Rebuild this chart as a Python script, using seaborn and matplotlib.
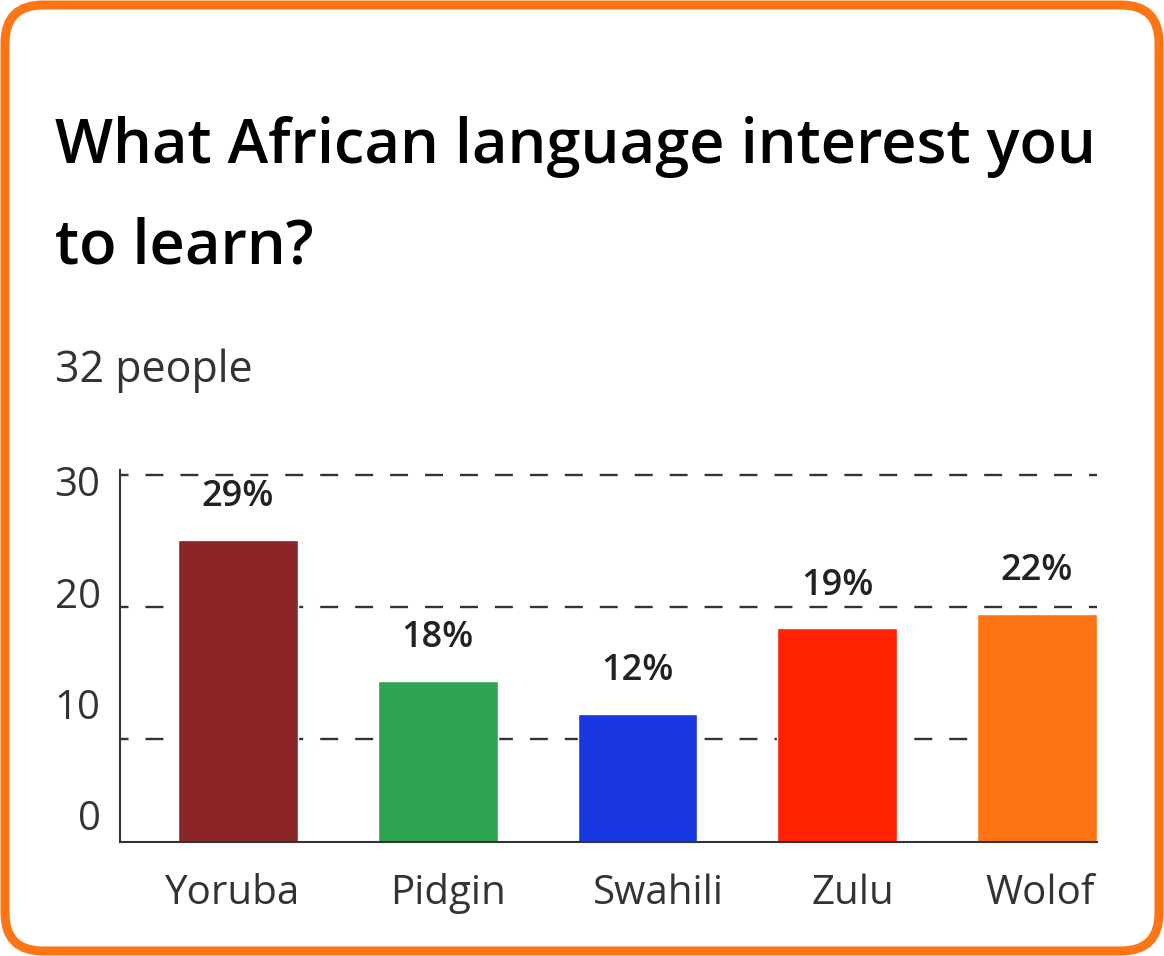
import matplotlib
matplotlib.use('Agg')
import matplotlib.pyplot as plt
from matplotlib.patches import FancyBboxPatch
from matplotlib.transforms import IdentityTransform, ScaledTranslation
import seaborn as sns

# ---- data ----
languages = ['Yoruba', 'Pidgin', 'Swahili', 'Zulu', 'Wolof']
counts = [25.1, 14.4, 11.9, 18.4, 19.5]
pct_labels = ['29%', '18%', '12%', '19%', '22%']
bar_colors = ['#8B2528', '#2EA351', '#1A38E2', '#FF2200', '#FF7514']
tick_values = [0, 10, 20, 30]
grid_values = [10, 20, 30]
title = 'What African language interest you\nto learn?'
subtitle = '32 people'

sns.set_theme(style='white')
plt.rcParams['font.family'] = ['Open Sans', 'DejaVu Sans']

W, H = 1164, 956
fig = plt.figure(figsize=(W / 100, H / 100), dpi=100)
fig.patch.set_facecolor('white')

# rounded orange frame (pixel coordinates)
frame = FancyBboxPatch((5, 5), W - 10, H - 10,
                       boxstyle='round,pad=0,rounding_size=38',
                       transform=IdentityTransform(),
                       facecolor='none', edgecolor='#FF7514', linewidth=6.5)
fig.patches.append(frame)

# va='baseline' on a two-line text pins the last line's baseline
fig.text(55 / W, 1 - 263 / H, title, fontsize=44.2, fontweight='semibold',
         color='black', ha='left', va='baseline', linespacing=1.8)
fig.text(55 / W, 1 - 382 / H, subtitle, fontsize=31, color='#333333',
         ha='left', va='baseline')

ax = fig.add_axes([120 / W, 1 - 842 / H, (1097 - 120) / W, (842 - 470) / H])
sns.barplot(x=languages, y=counts, hue=languages, palette=bar_colors,
            legend=False, width=0.6, saturation=1, ax=ax, zorder=2)

for g in grid_values:
    ax.axhline(g, color='#333333', linewidth=1.7,
               linestyle=(4, (7.6, 7.2)), zorder=1)

ax.set_xlim(-0.59, 4.3)
ax.set_ylim(2.16, 30.39)
ax.set_yticks([])
ax.set_xlabel('')
ax.set_ylabel('')
ax.tick_params(axis='x', length=0, pad=22.5, labelsize=29, labelcolor='#333333')
for side in ['top', 'right']:
    ax.spines[side].set_visible(False)
for side in ['left', 'bottom']:
    ax.spines[side].set_color('#333333')
    ax.spines[side].set_linewidth(1.5)

# category labels in the reference are not exactly centred under the bars
label_shift_px = [-5, 10, 21, 16, 3]
for lbl, dx in zip(ax.get_xticklabels(), label_shift_px):
    lbl.set_transform(lbl.get_transform() +
                      ScaledTranslation(dx / 100, 0, fig.dpi_scale_trans))

for cont, lab in zip(ax.containers, pct_labels):
    bar = cont[0]
    ax.annotate(lab, (bar.get_x() + bar.get_width() / 2, bar.get_height()),
                xytext=(0, 30.5), textcoords='offset points',
                ha='center', va='center', fontsize=26, fontweight='semibold',
                color='#222222')

# y tick labels sit on their own scale, like in the reference
lab_ax = ax.twinx()
lab_ax.yaxis.tick_left()
lab_ax.set_ylim(-2.43, 31.0)
lab_ax.set_yticks(tick_values)
lab_ax.set_yticklabels([str(v) for v in tick_values])
lab_ax.tick_params(axis='y', length=0, pad=14, labelsize=29, labelcolor='#333333')
for s in lab_ax.spines.values():
    s.set_visible(False)

fig.savefig('out.png', dpi=100)
